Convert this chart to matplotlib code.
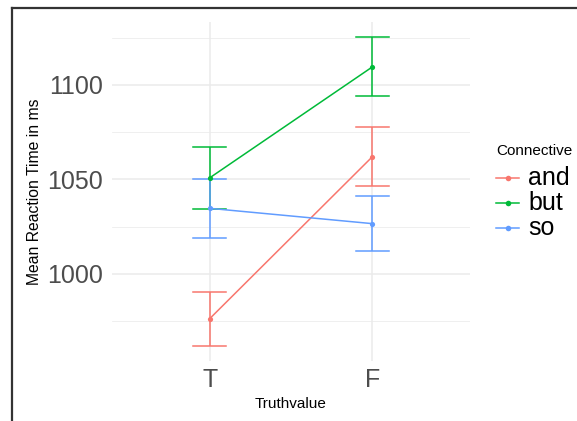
import matplotlib
matplotlib.use("Agg")
import matplotlib.pyplot as plt
from matplotlib.lines import Line2D
import numpy as np

plt.rcParams['font.family'] = ['Liberation Sans', 'DejaVu Sans']

truth = ["T", "F"]
connectives = ["and", "but", "so"]
colors = {"and": "#F8766D", "but": "#00BA38", "so": "#619CFF"}
means = {
    "and": [976.3, 1062.0],
    "but": [1050.8, 1109.5],
    "so": [1034.7, 1026.6],
}
errs = {
    "and": [14.2, 15.5],
    "but": [16.5, 15.6],
    "so": [15.6, 14.7],
}
yticks = [1000, 1050, 1100]
yminor = [975, 1025, 1075, 1125]

W, H = 577, 421
fig = plt.figure(figsize=(W / 100, H / 100), dpi=100)
L, R, T, B = 112, 470, 22, 361
ax = fig.add_axes([L / W, (H - B) / H, (R - L) / W, (B - T) / H])

x = np.arange(1, len(truth) + 1)
for c in connectives:
    m = np.array(means[c]); e = np.array(errs[c])
    ax.plot(x, m, color=colors[c], lw=1.1, zorder=3)
    ax.scatter(x, m, color=colors[c], s=14, zorder=4, linewidths=0)
    ax.errorbar(x, m, yerr=e, color=colors[c], lw=1.1, capsize=0, fmt='none', zorder=3)
    for xi, mi, ei in zip(x, m, e):
        for yy in (mi - ei, mi + ei):
            ax.plot([xi - 0.1, xi + 0.1], [yy, yy], color=colors[c], lw=1.1, zorder=3)

lo = min(np.min(np.array(means[c]) - np.array(errs[c])) for c in connectives)
hi = max(np.max(np.array(means[c]) + np.array(errs[c])) for c in connectives)
pad = 0.05 * (hi - lo)
ax.set_ylim(lo - pad, hi + pad)
ax.set_xlim(0.4, len(truth) + 0.6)

ax.set_xticks(x)
ax.set_xticklabels(truth)
ax.set_yticks(yticks)
ax.set_yticks(yminor, minor=True)
ax.set_xticks([], minor=True)
ax.tick_params(axis='both', which='both', length=0)
ax.tick_params(axis='y', labelsize=18, labelcolor='#4D4D4D', pad=6.5)
ax.tick_params(axis='x', labelsize=18, labelcolor='#4D4D4D', pad=5)
ax.grid(True, which='major', color='#EBEBEB', lw=1.1)
ax.grid(True, which='minor', axis='y', color='#EBEBEB', lw=0.55)
ax.set_axisbelow(True)
for s in ax.spines.values():
    s.set_visible(False)
ax.set_facecolor('white')

ax.set_ylabel("Mean Reaction Time in ms", fontsize=11.3, color='black', va='center')
ax.yaxis.set_label_coords((35 - L) / (R - L), 0.5)
ax.set_xlabel("Truthvalue", fontsize=11, color='black', va='center')
ax.xaxis.set_label_coords(0.5, (B - 404) / (B - T))

# legend
def fx(px): return px / W
def fy(py): return (H - py) / H
fig.text(fx(496), fy(151), "Connective", fontsize=11, va='center', ha='left', color='black')
rows = [178, 203, 228]
for c, ry in zip(connectives, rows):
    fig.add_artist(Line2D([fx(496), fx(519)], [fy(ry), fy(ry)], color=colors[c], lw=1.1))
    fig.add_artist(Line2D([fx(507.5)], [fy(ry)], color=colors[c], marker='o', ms=4, mew=0))
    fig.text(fx(528), fy(ry), c, fontsize=18, va='center', ha='left', color='black')

# frame
fig.add_artist(Line2D([fx(12), fx(12)], [fy(8), 0], color='#333333', lw=1.6))
fig.add_artist(Line2D([fx(12), 1], [fy(8), fy(8)], color='#333333', lw=1.6))

fig.savefig("out.png", dpi=100, facecolor='white')
